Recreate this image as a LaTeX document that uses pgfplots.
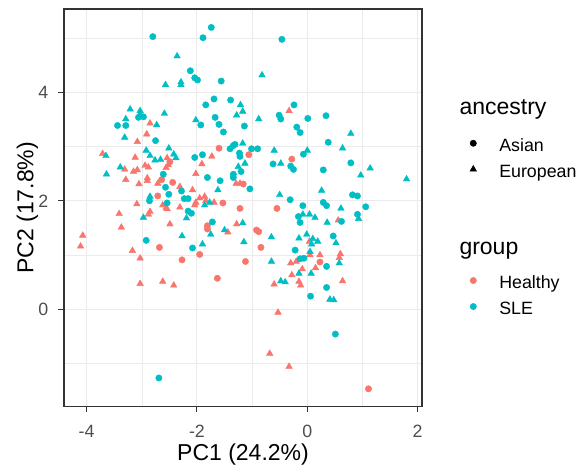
\documentclass[border=0pt]{standalone}
\usepackage{fontspec}
\setmainfont{Liberation Sans}
\usepackage{pgfplots}
\pgfplotsset{compat=1.18}
\definecolor{healthy}{HTML}{F8766D}
\definecolor{sle}{HTML}{00BFC4}
\definecolor{gridc}{HTML}{EBEBEB}
\definecolor{borderc}{HTML}{333333}
\definecolor{tickc}{HTML}{4D4D4D}
\newcommand{\tickfont}{\fontsize{17.8bp}{20bp}\selectfont}
\newcommand{\titlefont}{\fontsize{23bp}{26bp}\selectfont}
\pgfplotsset{
  legbase/.style={
    legend cell align=left,
    legend image code/.code={\path[draw=none, fill=none] (0bp,-4bp) rectangle (12bp,8bp); \draw[##1] plot coordinates {(6bp,3bp)};},
    legend style={draw=none, fill=none, inner sep=0pt, outer sep=0pt, anchor=north west,
      row sep=9.5bp,
      nodes={inner sep=0pt, text height=13bp, text depth=3.5bp, font=\tickfont},
      /tikz/every odd column/.append style={column sep=20bp}},
  },
  panel/.style={
    at={(64bp,62.3bp)}, anchor=south west,
    scale only axis, width=358bp, height=397.7bp,
    xmin=-4.41, xmax=2.08, ymin=-1.80, ymax=5.54,
  }
}
\begin{document}
\begin{tikzpicture}
\path[use as bounding box] (0,0) rectangle (579bp,469bp);
\begin{axis}[panel,
  xtick={-4,-2,0,2}, ytick={0,2,4},
  minor xtick={-3,-1,1}, minor ytick={-1,1,3,5},
  grid=both,
  major grid style={gridc, line width=1.1bp},
  minor grid style={gridc, line width=0.55bp},
  minor tick length=0pt,
  major tick length=5.5bp,
  tick align=outside,
  xtick pos=left, ytick pos=left,
  tick style={borderc, line width=1.07bp},
  axis line style={borderc, line width=1.07bp},
  /pgf/number format/assume math mode=true,
  ticklabel style={font=\tickfont, text=tickc, inner sep=0pt},
  xticklabel style={anchor=north, yshift=-12.6bp},
  yticklabel style={anchor=east, xshift=-10bp},
  xlabel={PC1 (24.2\%)}, ylabel={PC2 (17.8\%)},
  label style={font=\titlefont, inner sep=0pt},
  xlabel style={at={(axis description cs:0.5,-0.1365)}, anchor=base},
  ylabel style={at={(axis description cs:-0.0858,0.5)}, anchor=base, rotate=0},
  legbase,
  legend style={at={(axis description cs:1.1265,0.6756)}},
]
\addlegendimage{only marks, mark=*, mark size=3.2bp, black}
\addlegendentry{Asian}
\addlegendimage{only marks, mark=triangle*, mark size=3.8bp, black}
\addlegendentry{European}
% Healthy, Asian
\addplot[only marks, mark=*, mark size=3.2bp, draw=healthy, fill=healthy, forget plot] coordinates {
(-2.49,2.72) (-2.64,2.39) (-2.44,2.34) (-2.71,2.09) (-2.68,1.14) (-2.27,0.91)
(-1.95,1.01) (-1.12,0.88) (0.23,0.87) (-1.63,0.57) (1.11,-1.47) (-1.60,2.97)
(-1.06,2.85) (-0.28,2.77) (-1.16,2.31) (-1.53,1.96) (-1.22,1.86) (-0.55,1.86)
(-1.81,1.54) (-1.81,1.48) (-0.92,1.46) (-0.88,1.43) (-0.84,1.14)
};
% Healthy, European
\addplot[only marks, mark=triangle*, mark size=3.8bp, draw=healthy, fill=healthy, forget plot] coordinates {
(-2.85,3.43) (-3.08,3.09) (-2.91,3.23) (-3.71,2.87) (-3.12,2.80) (-2.54,2.79)
(-2.52,2.66) (-2.56,2.61) (-3.31,2.58) (-3.15,2.54) (-3.08,2.57) (-2.94,2.65)
(-2.88,2.62) (-3.29,2.39) (-2.90,2.42) (-2.90,2.37) (-3.05,2.31) (-2.71,2.32)
(-2.31,2.26) (-3.09,1.94) (-2.62,1.92) (-2.56,1.87) (-2.54,1.85) (-2.31,1.88)
(-2.85,1.80) (-2.88,1.75) (-3.41,1.76) (-2.49,1.57) (-3.37,1.51) (-4.07,1.36)
(-4.11,1.16) (-3.17,1.08) (-3.03,0.94) (-0.30,0.85) (-0.20,0.88) (0.05,1.00)
(0.23,1.00) (0.60,1.02) (0.58,0.95) (-0.09,0.74) (-0.28,0.63) (0.15,0.76)
(-3.03,0.47) (-2.62,0.51) (-2.42,0.44) (-0.60,0.46) (-0.15,0.51) (-0.12,0.44)
(0.64,0.52) (-0.53,-0.06) (-0.68,-0.82) (-0.33,-1.06) (-0.33,3.66) (-1.73,2.82)
(-1.91,2.68) (-2.02,2.50) (-1.29,2.32) (-1.22,2.32) (-2.08,2.20) (-1.95,2.05)
(-1.86,2.08) (-1.84,2.00) (-2.04,1.92) (-2.02,1.97) (-1.69,1.97) (-1.28,1.57)
(-1.44,1.42) (0.04,1.25) (0.56,1.64)
};
% SLE, Asian
\addplot[only marks, mark=*, mark size=3.2bp, draw=sle, fill=sle, forget plot] coordinates {
(-2.80,5.03) (-2.12,4.40) (-3.06,3.54) (-2.97,3.55) (-3.44,3.39) (-3.29,3.39)
(-2.75,3.11) (-2.61,2.49) (-2.57,2.25) (-2.28,2.18) (-2.51,2.12) (-2.86,2.00)
(-2.23,2.04) (-2.16,2.04) (-2.54,1.96) (-2.16,1.81) (-2.10,1.77) (-2.92,1.27)
(-0.13,0.93) (-0.06,0.94) (0.35,0.79) (0.35,0.40) (0.06,0.24) (0.51,-0.46)
(-2.69,-1.27) (-1.74,5.20) (-1.89,5.01) (-0.46,4.98) (-2.04,4.27) (-1.99,4.23)
(-1.56,4.21) (-1.84,3.77) (-1.69,3.88) (-1.39,3.86) (-1.93,3.40) (-1.67,3.54)
(-1.60,3.41) (-1.52,3.27) (-1.14,3.38) (-0.24,3.77) (-0.51,3.58) (-0.48,3.51)
(-0.19,3.36) (-0.13,3.26) (0.01,3.52) (0.34,3.57) (-1.40,2.96) (-1.34,3.02)
(-1.31,3.04) (-1.23,2.88) (-1.22,2.82) (-1.01,2.96) (-0.90,2.96) (-0.62,2.68)
(-0.30,2.64) (-0.25,2.58) (-2.04,2.80) (-1.90,2.85) (-1.81,2.43) (-1.58,2.37)
(-1.20,2.54) (-1.34,2.49) (-1.34,2.43) (-1.04,2.22) (-0.31,2.02) (-1.72,1.61)
(-2.08,1.13) (-0.22,1.09) (-0.08,1.91) (-0.16,1.71) (-0.13,1.60) (-0.07,2.86)
(0.38,3.08) (0.79,2.70) (0.29,2.57) (0.82,2.11) (0.91,2.09) (1.06,1.89)
(0.29,1.97) (0.35,1.91) (0.91,1.75) (0.62,1.62) (0.47,1.35)
};
% SLE, European
\addplot[only marks, mark=triangle*, mark size=3.8bp, draw=sle, fill=sle, forget plot] coordinates {
(-2.36,4.67) (-2.57,4.14) (-2.29,4.19) (-2.29,4.14) (-3.21,3.69) (-3.03,3.66)
(-3.03,3.60) (-2.59,3.61) (-3.29,3.51) (-2.73,3.40) (-3.31,3.17) (-3.65,2.83)
(-2.92,2.93) (-2.85,2.83) (-2.76,2.75) (-2.66,2.76) (-2.51,2.97) (-2.42,2.86)
(-2.38,2.79) (-3.39,2.62) (-3.64,2.49) (-2.85,2.08) (-2.97,1.69) (-2.27,1.35)
(-0.65,0.88) (-0.15,0.66) (0.07,0.66) (0.58,0.85) (-0.48,0.52) (-0.40,0.50)
(0.41,0.18) (0.48,0.17) (-0.82,4.32) (-1.21,3.77) (-1.17,3.65) (-1.28,3.58)
(-0.88,3.51) (-2.02,3.49) (0.79,3.24) (-1.17,3.06) (-0.60,2.93) (-0.48,2.69)
(0.00,2.93) (-1.25,2.63) (-1.13,2.69) (-1.62,2.20) (-0.50,2.11) (-1.86,1.92)
(-1.77,1.97) (-2.19,1.68) (-1.75,1.38) (-1.17,1.59) (-1.50,1.46) (-0.65,1.33)
(-1.90,1.20) (-1.15,1.24) (-0.15,1.31) (-0.01,1.38) (0.64,2.97) (1.14,2.60)
(0.97,2.47) (1.80,2.40) (0.26,2.19) (0.61,1.86) (-0.08,1.75) (0.04,1.75)
(0.14,1.69) (0.93,1.67) (0.36,1.60) (0.10,1.30) (0.19,1.25) (0.08,1.20)
(0.52,1.22) (0.05,1.06)
};
\end{axis}
\begin{axis}[panel, hide axis, legbase,
  legend style={at={(axis description cs:1.1265,0.3304)}}]
\addlegendimage{only marks, mark=*, mark size=3.2bp, draw=healthy, fill=healthy}
\addlegendentry{Healthy}
\addlegendimage{only marks, mark=*, mark size=3.2bp, draw=sle, fill=sle}
\addlegendentry{SLE}
\end{axis}
\node[anchor=base west, inner sep=0pt, font=\titlefont] at (459.3bp,354bp) {ancestry};
\node[anchor=base west, inner sep=0pt, font=\titlefont] at (459.3bp,214bp) {group};
\end{tikzpicture}
\end{document}
